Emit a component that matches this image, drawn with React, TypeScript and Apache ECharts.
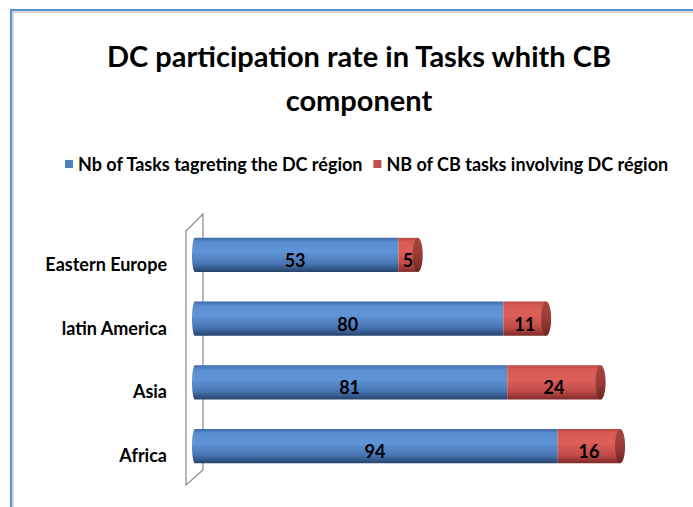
import React, { useEffect, useRef } from "react";
import * as echarts from "echarts";

const categories = ["Eastern Europe", "latin America", "Asia", "Africa"];
const tasksTargeting = [53, 80, 81, 94];
const cbTasks = [5, 11, 24, 16];
const seriesNames = ["Nb of Tasks tagreting the DC région", "NB of CB tasks involving DC région"];
const titleText = "DC participation rate in Tasks whith CB\ncomponent";

const FONT = "Lato, 'Open Sans', sans-serif";

const blueGrad = () =>
  new echarts.graphic.LinearGradient(0, 0, 0, 1, [
    { offset: 0, color: "#3e6aa6" },
    { offset: 0.12, color: "#5a8ed0" },
    { offset: 0.4, color: "#5f95d8" },
    { offset: 0.75, color: "#4977b5" },
    { offset: 1, color: "#26446d" },
  ]);
const redGrad = () =>
  new echarts.graphic.LinearGradient(0, 0, 0, 1, [
    { offset: 0, color: "#b94844" },
    { offset: 0.12, color: "#d85a55" },
    { offset: 0.4, color: "#dc5f5a" },
    { offset: 0.75, color: "#c24c48" },
    { offset: 1, color: "#7e2b29" },
  ]);
const redCap = () =>
  new echarts.graphic.LinearGradient(0, 0, 0, 1, [
    { offset: 0, color: "#a84340" },
    { offset: 0.5, color: "#9a3b38" },
    { offset: 1, color: "#6f2624" },
  ]);

export default function App() {
  const ref = useRef<HTMLDivElement>(null);
  useEffect(() => {
    if (!ref.current) return;
    const chart = echarts.init(ref.current, null, { renderer: "svg" });

    const blueData = categories.map((_, i) => [i, 0, tasksTargeting[i], tasksTargeting[i]]);
    const redData = categories.map((_, i) => [
      i,
      tasksTargeting[i],
      tasksTargeting[i] + cbTasks[i],
      cbTasks[i],
    ]);

    const makeRender = (isRed: boolean) => (params: any, api: any) => {
      const idx = api.value(0);
      const start = api.coord([api.value(1), idx]);
      const end = api.coord([api.value(2), idx]);
      const bandH = api.size([0, 1])[1];
      const h = bandH * 0.535;
      const y = start[1] - h / 2;
      const children: any[] = [];
      if (!isRed) {
        children.push({
          type: "ellipse",
          shape: { cx: start[0] + 3, cy: start[1], rx: 3, ry: h / 2 },
          style: { fill: blueGrad() },
        });
        children.push({
          type: "rect",
          shape: { x: start[0] + 3, y, width: end[0] - start[0] - 3, height: h },
          style: { fill: blueGrad() },
        });
      } else {
        children.push({
          type: "rect",
          shape: { x: start[0], y, width: end[0] - start[0], height: h },
          style: { fill: redGrad() },
        });
        children.push({
          type: "ellipse",
          shape: { cx: end[0], cy: start[1], rx: 5, ry: h / 2 },
          style: { fill: redCap() },
        });
      }
      children.push({
        type: "text",
        style: {
          text: String(api.value(3)),
          x: (start[0] + end[0]) / 2,
          y: start[1] + 5,
          align: "center",
          verticalAlign: "middle",
          fill: "#000",
          font: `bold 18px ${FONT}`,
        },
      });
      return { type: "group", children };
    };

    chart.setOption({
      animation: false,
      backgroundColor: "#fff",
      title: {
        text: titleText,
        left: 354,
        textAlign: "center",
        top: 28,
        textStyle: {
          fontFamily: FONT,
          fontWeight: "bold",
          fontSize: 29,
          lineHeight: 44,
          color: "#000",
        },
      },
      legend: {
        top: 150,
        left: 60,
        width: 633,
        itemWidth: 8,
        itemHeight: 8,
        itemGap: 10,
        icon: "rect",
        textStyle: { fontFamily: FONT, fontWeight: "bold", fontSize: 18, color: "#000" },
        data: seriesNames,
      },
      grid: { left: 192, width: 467, top: 223, height: 255 },
      xAxis: {
        type: "value",
        min: 0,
        max: 120,
        show: false,
      },
      yAxis: {
        type: "category",
        data: categories,
        inverse: true,
        axisLine: { show: false },
        axisTick: { show: false },
        axisLabel: {
          margin: 25,
          fontFamily: FONT,
          fontWeight: "bold",
          fontSize: 18,
          lineHeight: 18,
          verticalAlign: "top",
          color: "#000",
        },
      },
      graphic: [
        {
          type: "polyline",
          shape: { points: [[11, 507], [11, 10], [693, 10]] },
          style: { stroke: "#5b8fd6", lineWidth: 2, fill: "none" },
          z: 10,
        },
        {
          type: "polyline",
          shape: { points: [[13, 507], [13, 12], [693, 12]] },
          style: { stroke: "#c8c8c8", lineWidth: 1.5, fill: "none" },
          z: 10,
        },
        {
          type: "polygon",
          shape: { points: [[186, 231], [203, 214], [203, 470], [186, 485]] },
          style: { stroke: "#8a8a8a", lineWidth: 1.2, fill: "#fff" },
          z: -1,
        },
      ],
      series: [
        {
          name: seriesNames[0],
          type: "custom",
          renderItem: makeRender(false),
          data: blueData,
          itemStyle: { color: "#4f81bd" },
          encode: { x: [1, 2], y: 0 },
          z: 2,
        },
        {
          name: seriesNames[1],
          type: "custom",
          renderItem: makeRender(true),
          data: redData,
          itemStyle: { color: "#c0504d" },
          encode: { x: [1, 2], y: 0 },
          z: 3,
        },
      ],
    });
    return () => chart.dispose();
  }, []);
  return <div ref={ref} style={{ width: 693, height: 507, position: "absolute", left: 0, top: 0 }} />;
}
